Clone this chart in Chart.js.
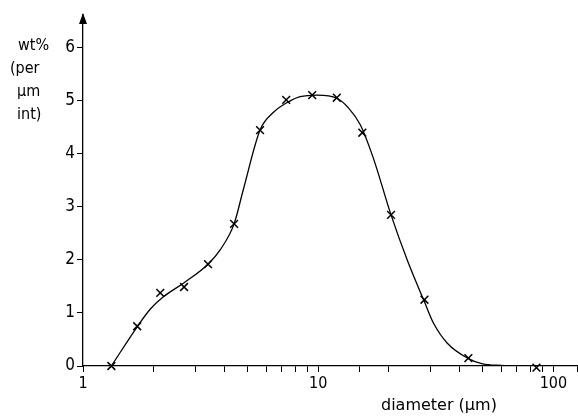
<!DOCTYPE html>
<html>
<head>
<meta charset="utf-8">
<script src="https://cdn.jsdelivr.net/npm/chart.js@4"></script>
<style>
  html, body { margin: 0; padding: 0; background: #fff; }
  #wrap { width: 578px; height: 417px; }
</style>
</head>
<body>
<div id="wrap"><canvas id="sizeChart"></canvas></div>
<script>
// measured points (x marks)
const measDiameter = [1.32, 1.7, 2.13, 2.69, 3.4, 4.39, 5.66, 7.31, 9.43, 12.0, 15.4, 20.4, 28.3, 43.5, 84.7];
const measWt = [0, 0.75, 1.38, 1.49, 1.92, 2.68, 4.45, 5.02, 5.11, 5.06, 4.4, 2.85, 1.25, 0.15, -0.03];

// fitted curve (flat part lies on the axis)
const curveDiameter = [1.32, 1.7, 1.93, 2.19, 2.69, 3.4, 3.83, 4.39, 4.8, 5.66, 6.44, 7.6, 8.38, 9.9, 12.0, 13.5, 15.1, 17.1, 20.4, 24, 28.3, 30.9, 35.4, 43.5, 50, 60, 68];
const curveWt = [0, 0.74, 1.07, 1.3, 1.57, 1.92, 2.19, 2.68, 3.32, 4.45, 4.78, 5.0, 5.08, 5.11, 5.05, 4.86, 4.55, 3.94, 2.85, 1.98, 1.21, 0.81, 0.43, 0.14, 0.04, 0.01, 0];

const xLabels = [1, 10, 100];
const yTicks = [0, 1, 2, 3, 4, 5, 6];
const yTitleLines = ["wt%", "(per", "\u00b5m", "int)"];
const xTitle = "diameter (\u00b5m)";

const FONT = "'DejaVu Sans Condensed', 'Liberation Sans', sans-serif";

const extras = {
  id: "extras",
  afterDraw(chart) {
    const ctx = chart.ctx;
    const area = chart.chartArea;
    ctx.save();
    // arrow on the y axis
    ctx.fillStyle = "#000";
    ctx.beginPath();
    ctx.moveTo(area.left, area.top - 2);
    ctx.lineTo(area.left - 4, area.top + 9);
    ctx.lineTo(area.left + 4, area.top + 9);
    ctx.closePath();
    ctx.fill();

    ctx.font = "16px " + FONT;
    ctx.textBaseline = "middle";
    ctx.textAlign = "left";
    const yLeft = [18, 10, 17, 17];
    yTitleLines.forEach((t, i) => ctx.fillText(t, yLeft[i], 46 + i * 23));

    ctx.font = "16px 'DejaVu Sans', sans-serif";
    ctx.fillText(xTitle, 381, 406);
    ctx.restore();
  }
};

new Chart(document.getElementById("sizeChart"), {
  type: "line",
  data: {
    datasets: [
      {
        data: curveDiameter.map((d, i) => ({ x: d, y: curveWt[i] })),
        borderColor: "#000",
        borderWidth: 1.3,
        pointRadius: 0,
        cubicInterpolationMode: "monotone",
        fill: false,
      },
      {
        data: measDiameter.map((d, i) => ({ x: d, y: measWt[i] })),
        showLine: false,
        pointStyle: "crossRot",
        pointRadius: 5.5,
        pointBorderColor: "#000",
        pointBorderWidth: 1.5,
        clip: false,
      },
    ],
  },
  plugins: [extras],
  options: {
    responsive: true,
    maintainAspectRatio: false,
    animation: false,
    layout: { autoPadding: false, padding: { top: 15, right: 1, bottom: 0, left: 0 } },
    plugins: { legend: { display: false }, tooltip: { enabled: false } },
    scales: {
      x: {
        type: "logarithmic",
        min: 1,
        max: 126,
        afterFit(scale) {
          scale.height = 51;
          scale.paddingRight = 0;
        },
        afterBuildTicks(scale) {
          scale.ticks = scale.ticks.filter((t) => t.value <= 100 || t.value === 126);
        },
        grid: { drawOnChartArea: false, color: "#000", tickLength: 6, lineWidth: 1 },
        border: { color: "#000", width: 1.3 },
        ticks: {
          autoSkip: false,
          maxRotation: 0,
          padding: 2,
          color: "#000",
          font: { family: FONT, size: 16 },
          callback: (v) => (xLabels.includes(v) ? String(v) : ""),
        },
      },
      y: {
        min: 0,
        max: 6.62,
        afterFit(scale) { scale.width = 83; },
        afterBuildTicks(scale) {
          scale.ticks = yTicks.map((v) => ({ value: v }));
        },
        grid: { drawOnChartArea: false, color: "#000", tickLength: 6, lineWidth: 1 },
        border: { color: "#000", width: 1.3 },
        ticks: {
          padding: 2,
          color: "#000",
          font: { family: FONT, size: 17 },
        },
      },
    },
  },
});
</script>
</body>
</html>
